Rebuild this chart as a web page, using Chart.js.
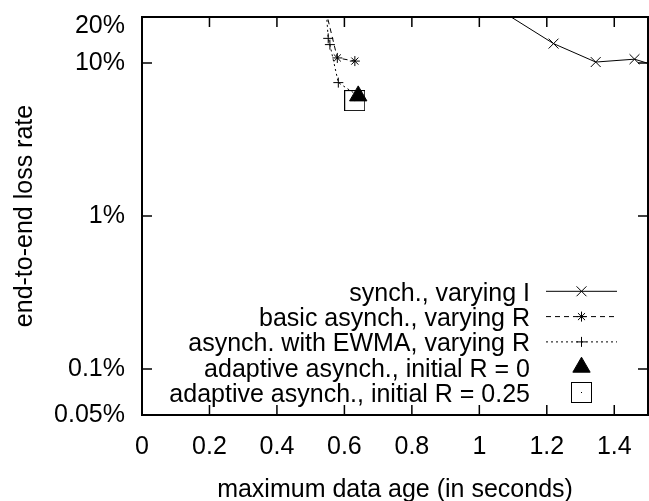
<!DOCTYPE html>
<html>
<head>
<meta charset="utf-8">
<script src="https://cdn.jsdelivr.net/npm/chart.js@4.4.1/dist/chart.umd.min.js"></script>
<style>
  html, body { margin: 0; padding: 0; background: #fff; }
  canvas { display: block; }
</style>
</head>
<body>
<canvas id="c" width="649" height="501"></canvas>
<script>
// Axis ticks
const xTickValues = [0, 0.2, 0.4, 0.6, 0.8, 1, 1.2, 1.4];
const xTickLabels = ['0', '0.2', '0.4', '0.6', '0.8', '1', '1.2', '1.4'];
const yTickValues = [0.05, 0.1, 1, 10, 20];
const yTickLabels = ['0.05%', '0.1%', '1%', '10%', '20%'];

// Series: maximum data age (s) vs. end-to-end loss rate (%)
const seriesNames = [
  'synch., varying I',
  'basic asynch., varying R',
  'asynch. with EWMA, varying R',
  'adaptive asynch., initial R = 0',
  'adaptive asynch., initial R = 0.25'
];
const synchAge = [1.0, 1.22, 1.345, 1.46, 1.6];
const synchLoss = [27, 13.4, 10.15, 10.6, 8.5];
const basicAge = [0.545, 0.579, 0.631];
const basicLoss = [22, 10.8, 10.3];
const ewmaAge = [0.545, 0.552, 0.557, 0.582, 0.641];
const ewmaLoss = [24, 14.5, 13.2, 7.45, 6.1];
const adaptive0Age = [0.641];
const adaptive0Loss = [6.1];
const adaptive25Age = [0.6305];
const adaptive25Loss = [5.68];

const FONT = '"Liberation Sans", Arial, Helvetica, sans-serif';
const FONT_SIZE = 25;

function pts(xs, ys) {
  return xs.map((x, i) => ({ x: x, y: ys[i] }));
}

// open square with a dot in the middle
function squareDot(size) {
  const c = document.createElement('canvas');
  c.width = size; c.height = size;
  const g = c.getContext('2d');
  g.strokeStyle = '#000';
  g.lineWidth = 1;
  g.strokeRect(0.5, 0.5, size - 1, size - 1);
  g.fillStyle = '#000';
  g.fillRect(Math.floor(size / 2), Math.floor(size / 2), 1, 1);
  return c;
}

// box around the plot with inward ticks on all four sides
const framePlugin = {
  id: 'frame',
  beforeDatasetsDraw(chart) {
    const { ctx, chartArea: a, scales } = chart;
    const len = 10;
    ctx.save();
    ctx.strokeStyle = '#000';
    ctx.lineWidth = 2;
    ctx.strokeRect(a.left, a.top, a.right - a.left, a.bottom - a.top);
    ctx.lineWidth = 1.5;
    ctx.beginPath();
    scales.x.ticks.forEach(t => {
      const px = scales.x.getPixelForValue(t.value);
      ctx.moveTo(px, a.bottom); ctx.lineTo(px, a.bottom - len);
      ctx.moveTo(px, a.top); ctx.lineTo(px, a.top + len);
    });
    scales.y.ticks.forEach(t => {
      const py = scales.y.getPixelForValue(t.value);
      ctx.moveTo(a.left, py); ctx.lineTo(a.left + len, py);
      ctx.moveTo(a.right, py); ctx.lineTo(a.right - len, py);
    });
    ctx.stroke();
    ctx.restore();
  }
};

// key: right-aligned text followed by a line sample and marker
const keyPlugin = {
  id: 'key',
  afterDatasetsDraw(chart, args, o) {
    const ctx = chart.ctx;
    ctx.save();
    ctx.font = FONT_SIZE + 'px ' + FONT;
    ctx.textAlign = 'right';
    ctx.textBaseline = 'alphabetic';
    chart.data.datasets.forEach((ds, i) => {
      const y = o.top + i * o.rowGap;
      ctx.fillStyle = '#000';
      ctx.fillText(ds.label, o.textRight, y + o.baselineShift);
      if (ds.showLine !== false) {
        ctx.save();
        ctx.strokeStyle = ds.borderColor;
        ctx.lineWidth = ds.borderWidth;
        ctx.setLineDash(ds.borderDash || []);
        ctx.beginPath();
        ctx.moveTo(o.lineLeft, y);
        ctx.lineTo(o.lineRight, y);
        ctx.stroke();
        ctx.restore();
      }
      ctx.fillStyle = ds.pointBackgroundColor;
      ctx.strokeStyle = ds.pointBorderColor;
      ctx.lineWidth = ds.pointBorderWidth;
      Chart.helpers.drawPoint(ctx, {
        pointStyle: ds.pointStyle,
        radius: ds.pointRadius,
        rotation: 0,
        borderWidth: ds.pointBorderWidth
      }, (o.lineLeft + o.lineRight) / 2, y);
    });
    ctx.restore();
  }
};

const common = {
  borderColor: '#000',
  borderWidth: 1,
  pointBorderColor: '#000',
  pointBackgroundColor: '#000',
  pointBorderWidth: 1,
  tension: 0
};

new Chart(document.getElementById('c'), {
  type: 'line',
  data: {
    datasets: [
      Object.assign({}, common, {
        label: seriesNames[0], data: pts(synchAge, synchLoss),
        pointStyle: 'crossRot', pointRadius: 7, order: 4
      }),
      Object.assign({}, common, {
        label: seriesNames[1], data: pts(basicAge, basicLoss),
        borderDash: [5, 4], pointStyle: 'star', pointRadius: 5, order: 3
      }),
      Object.assign({}, common, {
        label: seriesNames[2], data: pts(ewmaAge, ewmaLoss),
        borderDash: [2, 3], pointStyle: 'cross', pointRadius: 5, order: 2
      }),
      Object.assign({}, common, {
        label: seriesNames[3], data: pts(adaptive0Age, adaptive0Loss),
        showLine: false, pointStyle: 'triangle', pointRadius: 10, order: 1
      }),
      Object.assign({}, common, {
        label: seriesNames[4], data: pts(adaptive25Age, adaptive25Loss),
        showLine: false, pointStyle: squareDot(21), pointRadius: 10,
        pointBackgroundColor: 'rgba(0,0,0,0)', order: 0
      })
    ]
  },
  options: {
    responsive: false,
    animation: false,
    devicePixelRatio: 1,
    layout: { autoPadding: false, padding: { top: 17, right: 1, left: 0, bottom: 0 } },
    plugins: {
      legend: { display: false },
      tooltip: { enabled: false },
      key: { top: 291.3, rowGap: 25.3, textRight: 530, lineLeft: 546, lineRight: 617, baselineShift: 9.5 }
    },
    scales: {
      x: {
        type: 'linear',
        min: 0,
        max: 1.5,
        grid: { display: false, drawTicks: false },
        border: { display: false },
        afterBuildTicks: s => { s.ticks = xTickValues.map(v => ({ value: v })); },
        afterFit: s => { s.height = 86; s.paddingLeft = 0; s.paddingRight = 0; },
        ticks: {
          autoSkip: false,
          maxRotation: 0,
          padding: 17,
          color: '#000',
          font: { family: FONT, size: FONT_SIZE },
          callback: (v, i) => xTickLabels[i]
        },
        title: {
          display: true,
          text: 'maximum data age (in seconds)',
          color: '#000',
          font: { family: FONT, size: FONT_SIZE, lineHeight: 0.9 },
          padding: 0
        }
      },
      y: {
        type: 'logarithmic',
        min: 0.05,
        max: 20,
        grid: { display: false, drawTicks: false },
        border: { display: false },
        afterBuildTicks: s => { s.ticks = yTickValues.map(v => ({ value: v })); },
        afterFit: s => { s.width = 142; s.paddingTop = 0; s.paddingBottom = 0; },
        ticks: {
          autoSkip: false,
          padding: 17,
          color: '#000',
          // the top label sits a little below the frame corner
          font: c => ({
            family: FONT, size: FONT_SIZE,
            lineHeight: (c.tick && c.tick.value === 20) ? '18px' : 1.2
          }),
          callback: (v, i) => (i === yTickLabels.length - 1) ? ['', yTickLabels[i]] : yTickLabels[i]
        },
        title: {
          display: true,
          text: 'end-to-end loss rate',
          color: '#000',
          font: { family: FONT, size: FONT_SIZE },
          padding: { top: 10, bottom: 0 }
        }
      }
    }
  },
  plugins: [framePlugin, keyPlugin]
});
</script>
</body>
</html>
